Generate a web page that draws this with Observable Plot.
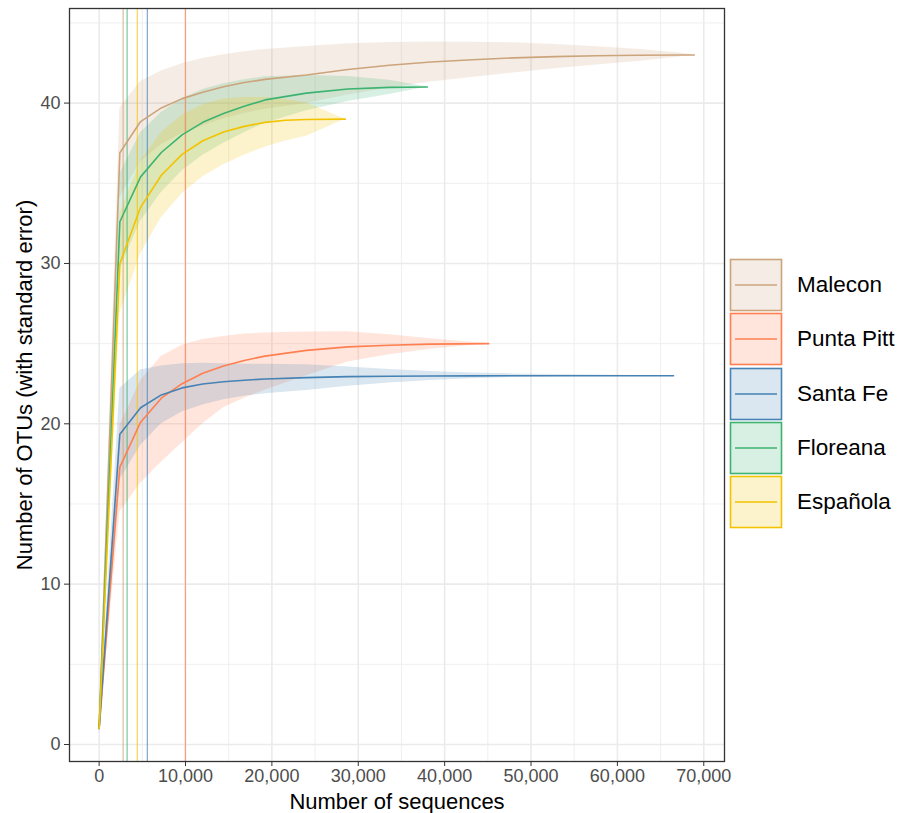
<!DOCTYPE html>
<html>
<head>
<meta charset="utf-8">
<script src="https://cdn.jsdelivr.net/npm/d3@7"></script>
<script src="https://cdn.jsdelivr.net/npm/@observablehq/plot@0.6"></script>
<style>
  html, body { margin: 0; padding: 0; background: #fff; }
  #wrap { position: relative; width: 910px; height: 813px; font-family: "Liberation Sans", Arial, sans-serif; }
  #chart { position: absolute; left: 0; top: 0; }
  #legend { position: absolute; left: 729px; top: 258px; }
  .item { display: flex; align-items: center; height: 54.3px; }
  .item svg { display: block; }
  .item span { margin-left: 14px; font-size: 22.5px; color: #000; }
</style>
</head>
<body>
<div id="wrap"><div id="chart"></div><div id="legend"></div></div>
<script>
const sites = ["Malecon", "Punta Pitt", "Santa Fe", "Floreana", "Española"];
const colors = ["#CCA47C", "#FF7F50", "#4682B4", "#3CB371", "#F2C300"];

// rarefaction depth of each site (vertical lines)
const minDepth = [2780, 9990, 5580, 3240, 4420];

const maleconX  = [1, 2400, 4800, 7200, 9600, 12000, 14400, 16800, 19200, 24000, 28800, 33600, 38400, 43200, 48000, 52800, 57600, 62400, 67200, 68900];
const maleconY  = [1, 36.9, 38.85, 39.7, 40.28, 40.68, 41.02, 41.28, 41.48, 41.75, 42.1, 42.36, 42.56, 42.7, 42.82, 42.9, 42.95, 42.98, 43.0, 43.0];
const maleconSE = [0, 2.8, 2.5, 2.3, 2.17, 2.1, 2.0, 1.93, 1.86, 1.78, 1.6, 1.42, 1.25, 1.1, 0.94, 0.76, 0.57, 0.38, 0.12, 0];

const puntaX  = [1, 2400, 4800, 7200, 9600, 12000, 14400, 16800, 19200, 24000, 28800, 33600, 38400, 45100];
const puntaY  = [1, 17.3, 20.1, 21.6, 22.5, 23.15, 23.6, 23.95, 24.22, 24.58, 24.8, 24.9, 24.97, 25.0];
const puntaLo = [1, 14.5, 16.3, 17.6, 18.8, 20.0, 21.0, 21.6, 22.1, 23.0, 23.85, 24.3, 24.65, 25.0];
const puntaHi = [1, 19.9, 22.7, 24.2, 24.9, 25.25, 25.45, 25.6, 25.66, 25.72, 25.74, 25.55, 25.3, 25.0];

const santaX  = [1, 2400, 4800, 7200, 9600, 12000, 14400, 16800, 19200, 24000, 28800, 33600, 38400, 43200, 48000, 52800, 57600, 62400, 66500];
const santaY  = [1, 19.35, 21.0, 21.8, 22.24, 22.48, 22.62, 22.72, 22.79, 22.88, 22.94, 22.97, 22.985, 22.99, 23.0, 23.0, 23.0, 23.0, 23.0];
const santaSE = [0, 2.85, 2.35, 1.8, 1.5, 1.3, 1.12, 1.0, 0.92, 0.8, 0.6, 0.42, 0.28, 0.18, 0.11, 0.07, 0.04, 0.02, 0];

const floreanaX  = [1, 2400, 4800, 7200, 9600, 12000, 14400, 16800, 19200, 24000, 28800, 33600, 38000];
const floreanaY  = [1, 32.6, 35.4, 36.92, 38.02, 38.8, 39.35, 39.8, 40.2, 40.62, 40.88, 40.98, 41.0];
const floreanaSE = [0, 3.0, 2.75, 2.5, 2.25, 2.05, 1.85, 1.65, 1.45, 1.1, 0.78, 0.45, 0];

const espanolaX  = [1, 2400, 4800, 7200, 9600, 12000, 14400, 16800, 19200, 21600, 24000, 28500];
const espanolaY  = [1, 30.0, 33.5, 35.5, 36.8, 37.65, 38.2, 38.55, 38.8, 38.93, 38.98, 39.0];
const espanolaSE = [0, 3.1, 2.9, 2.65, 2.45, 2.25, 2.05, 1.8, 1.55, 1.3, 1.05, 0];

const xTicks = [0, 10000, 20000, 30000, 40000, 50000, 60000, 70000];
const xMinor = [5000, 15000, 25000, 35000, 45000, 55000, 65000];
const yTicks = [0, 10, 20, 30, 40];
const yMinor = [5, 15, 25, 35, 45];

const series = [
  [maleconX, maleconY, maleconY.map((v, j) => v - maleconSE[j]), maleconY.map((v, j) => v + maleconSE[j])],
  [puntaX, puntaY, puntaLo, puntaHi],
  [santaX, santaY, santaY.map((v, j) => v - santaSE[j]), santaY.map((v, j) => v + santaSE[j])],
  [floreanaX, floreanaY, floreanaY.map((v, j) => v - floreanaSE[j]), floreanaY.map((v, j) => v + floreanaSE[j])],
  [espanolaX, espanolaY, espanolaY.map((v, j) => v - espanolaSE[j]), espanolaY.map((v, j) => v + espanolaSE[j])]
];
const rows = [];
series.forEach(([xs, ys, lo, hi], i) => {
  xs.forEach((x, j) => rows.push({site: sites[i], x, y: ys[j], lo: lo[j], hi: hi[j]}));
});
const vlines = sites.map((s, i) => ({site: s, x: minDepth[i], color: colors[i]}));

const font = '"Liberation Sans", Arial, sans-serif';
const plot = Plot.plot({
  width: 910,
  height: 813,
  marginTop: 8,
  marginBottom: 52,
  marginLeft: 69,
  marginRight: 186,
  style: {fontFamily: font, fontSize: "18px", background: "#fff"},
  x: {domain: [-3430, 72400], label: null},
  y: {domain: [-1.06, 45.9], label: null},
  color: {domain: sites, range: colors},
  marks: [
    Plot.gridX(xMinor, {stroke: "#EBEBEB", strokeOpacity: 1, strokeWidth: 0.8}),
    Plot.gridY(yMinor, {stroke: "#EBEBEB", strokeOpacity: 1, strokeWidth: 0.8}),
    Plot.gridX(xTicks, {stroke: "#EBEBEB", strokeOpacity: 1, strokeWidth: 1.6}),
    Plot.gridY(yTicks, {stroke: "#EBEBEB", strokeOpacity: 1, strokeWidth: 1.6}),
    Plot.areaY(rows, {x: "x", y1: "lo", y2: "hi", z: "site", fill: "site", fillOpacity: 0.2}),
    Plot.ruleX(vlines, {x: "x", stroke: d => d.color, strokeOpacity: 0.7, strokeWidth: 1.2}),
    Plot.lineY(rows, {x: "x", y: "y", z: "site", stroke: "site", strokeWidth: 1.6}),
    Plot.frame({stroke: "#333", strokeWidth: 1.3}),
    Plot.axisX({ticks: xTicks, tickFormat: d3.format(","), tickSize: 5, tickPadding: 3, fontSize: 18, stroke: "#333", fill: "#4D4D4D", label: null}),
    Plot.axisY({ticks: yTicks, tickSize: 5, tickPadding: 4, fontSize: 18, stroke: "#333", fill: "#4D4D4D", label: null}),
    Plot.text(["Number of sequences"], {frameAnchor: "bottom", dy: 47, textAnchor: "middle", fontSize: 22, fill: "#000", text: d => d}),
    Plot.text(["Number of OTUs (with standard error)"], {frameAnchor: "left", dx: -45, textAnchor: "middle", lineAnchor: "middle", rotate: -90, fontSize: 22, fill: "#000", text: d => d})
  ]
});
document.getElementById("chart").appendChild(plot);

const legend = document.getElementById("legend");
sites.forEach((s, i) => {
  const div = document.createElement("div");
  div.className = "item";
  div.innerHTML = `<svg width="54" height="54"><rect x="1.5" y="1.5" width="51" height="51" fill="${colors[i]}" fill-opacity="0.2" stroke="${colors[i]}" stroke-width="1.6"/><line x1="6" x2="48" y1="27" y2="27" stroke="${colors[i]}" stroke-width="1.6"/></svg><span>${s}</span>`;
  legend.appendChild(div);
});
</script>
</body>
</html>
